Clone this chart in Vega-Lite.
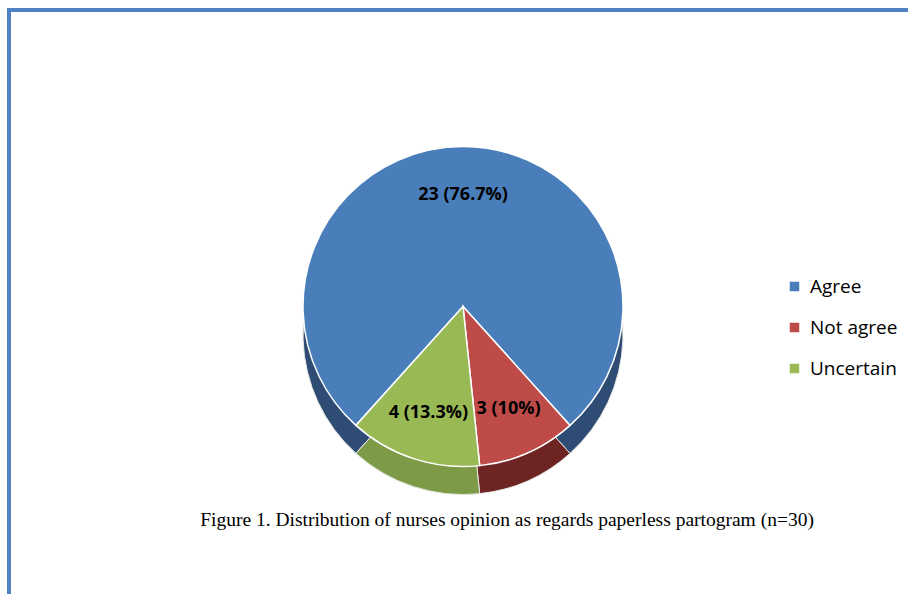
{
  "$schema": "https://vega.github.io/schema/vega-lite/v6.json",
  "width": 908,
  "height": 594,
  "autosize": {"type": "fit", "contains": "padding"},
  "padding": {"left": 9, "top": 10, "right": -9, "bottom": -9},
  "background": "white",
  "view": {"stroke": "#4f81c4", "strokeWidth": 4},
  "config": {
    "font": "Open Sans"
  },
  "title": {
    "text": "Figure 1. Distribution of nurses opinion as regards paperless partogram (n=30)",
    "orient": "bottom",
    "offset": -92,
    "dx": 44,
    "anchor": "middle",
    "font": "Liberation Serif",
    "fontSize": 19.5,
    "fontWeight": "normal",
    "color": "black"
  },
  "data": {
    "values": [
      {"answer": "Agree", "count": 23, "label": "23 (76.7%)"},
      {"answer": "Not agree", "count": 3, "label": "3 (10%)"},
      {"answer": "Uncertain", "count": 4, "label": "4 (13.3%)"}
    ]
  },
  "encoding": {
    "theta": {"field": "count", "type": "quantitative", "stack": true, "scale": {"range": [3.875, 10.158]}}
  },
  "resolve": {"scale": {"color": "independent"}, "legend": {"color": "independent"}},
  "layer": [
    {
      "mark": {"type": "arc", "radius": 160, "yOffset": 28, "stroke": "#e8e8e8", "strokeWidth": 1},
      "encoding": {
        "color": {"field": "answer", "type": "nominal", "legend": null,
          "scale": {"domain": ["Agree", "Not agree", "Uncertain"], "range": ["#2f4d74", "#6e2422", "#7d9a47"]}}
      }
    },
    {
      "mark": {"type": "arc", "radius": 160, "stroke": "white", "strokeWidth": 1.5},
      "encoding": {
        "color": {"field": "answer", "type": "nominal",
          "scale": {"domain": ["Agree", "Not agree", "Uncertain"], "range": ["#4a7ebb", "#be4b48", "#98b954"]},
          "legend": {"title": null, "orient": "none", "legendX": 776, "legendY": 267,
            "symbolType": "square", "symbolSize": 90, "symbolStrokeWidth": 0,
            "labelFont": "Open Sans", "labelFontSize": 19, "labelColor": "black",
            "rowPadding": 21, "symbolOffset": 0, "labelOffset": 6}}
      }
    },
    {
      "mark": {"type": "text", "radius": 112, "font": "Open Sans", "fontSize": 18, "fontWeight": "bold", "color": "black"},
      "encoding": {
        "text": {"field": "label"},
        "detail": {"field": "answer"}
      }
    }
  ]
}
